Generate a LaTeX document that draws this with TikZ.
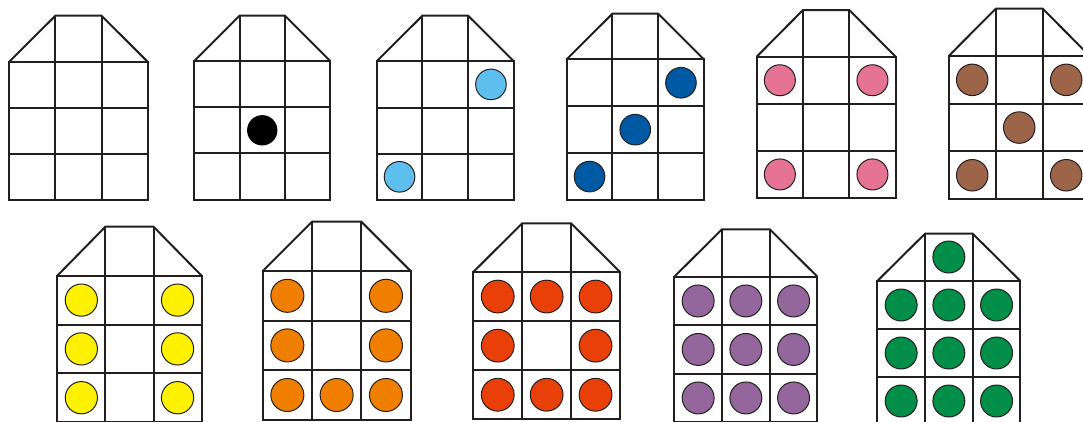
\documentclass[tikz,border=0pt]{standalone}
\usepackage{tikz}
\definecolor{lineC}{HTML}{231F20}
\definecolor{cLightBlue}{HTML}{5EBFEF}
\definecolor{cDarkBlue}{HTML}{0059A3}
\definecolor{cPink}{HTML}{E57393}
\definecolor{cBrown}{HTML}{9C654A}
\definecolor{cYellow}{HTML}{FFF200}
\definecolor{cOrange}{HTML}{F07F00}
\definecolor{cRed}{HTML}{E9400A}
\definecolor{cPurple}{HTML}{93679C}
\definecolor{cGreen}{HTML}{008E48}
\tikzset{
  houseline/.style={draw=lineC, line width=2pt, line join=miter},
  counter/.style={draw=lineC, line width=1pt},
}
\newcommand\house[5]{%
  \gdef\hsx{#1}\gdef\hsy{#2}\gdef\hsw{#3}\gdef\hsh{#4}\gdef\hsr{#5}%
  \begin{scope}[shift={(#1,#2)}]
    \draw[houseline] (0,0) -- (#3,-#5) -- ({2*#3},-#5) -- ({3*#3},0);
    \draw[houseline] (0,0) rectangle ({3*#3},{3*#4});
    \draw[houseline] (#3,-#5) -- (#3,{3*#4});
    \draw[houseline] ({2*#3},-#5) -- ({2*#3},{3*#4});
    \draw[houseline] (0,#4) -- ({3*#3},#4);
    \draw[houseline] (0,{2*#4}) -- ({3*#3},{2*#4});
  \end{scope}}
\newcommand\balls[3][counter]{%
  \begin{scope}[shift={(\hsx,\hsy)}]
    \foreach \cc/\rr in {#3}{%
      \path[#1, fill=#2] ({(\cc-0.5)*\hsw},{(\rr-0.5)*\hsh}) circle[radius={0.335*\hsw}];
    }
  \end{scope}}
\begin{document}
\begin{tikzpicture}[x=1pt,y=-1pt]
\useasboundingbox (0,0) rectangle (1083,421);
\clip (0,0) rectangle (1083,421);
\fill[white] (0,0) rectangle (1083,421);
% row 1
\house{9.3}{61.7}{46.1}{46.2}{46}
\house{194.3}{61}{45.3}{46.2}{45.3}
\balls[fill]{black}{2/2}
\house{376.7}{61.3}{45.7}{46.2}{45.6}
\balls{cLightBlue}{3/1,1/3}
\house{566.7}{59.3}{45.7}{46.9}{45.6}
\balls{cDarkBlue}{3/1,2/2,1/3}
\house{756.7}{56.7}{46.3}{47.1}{46.7}
\balls{cPink}{1/1,3/1,1/3,3/3}
\house{948.7}{56}{47}{47.7}{47.3}
\balls{cBrown}{1/1,3/1,2/2,1/3,3/3}
% row 2
\house{57.3}{275.7}{48.1}{48.8}{49}
\balls{cYellow}{1/1,3/1,1/2,3/2,1/3,3/3}
\house{262.7}{271}{49.3}{49.6}{49.3}
\balls{cOrange}{1/1,3/1,1/2,3/2,1/3,2/3,3/3}
\house{473.3}{272}{48.9}{49.1}{48.7}
\balls{cRed}{1/1,2/1,3/1,1/2,3/2,1/3,2/3,3/3}
\house{674.3}{276.7}{47.7}{48.5}{47.4}
\balls{cPurple}{1/1,2/1,3/1,1/2,2/2,3/2,1/3,2/3,3/3}
\house{877.3}{281}{47.7}{48}{47.3}
\balls{cGreen}{2/0,1/1,2/1,3/1,1/2,2/2,3/2,1/3,2/3,3/3}
\end{tikzpicture}
\end{document}
